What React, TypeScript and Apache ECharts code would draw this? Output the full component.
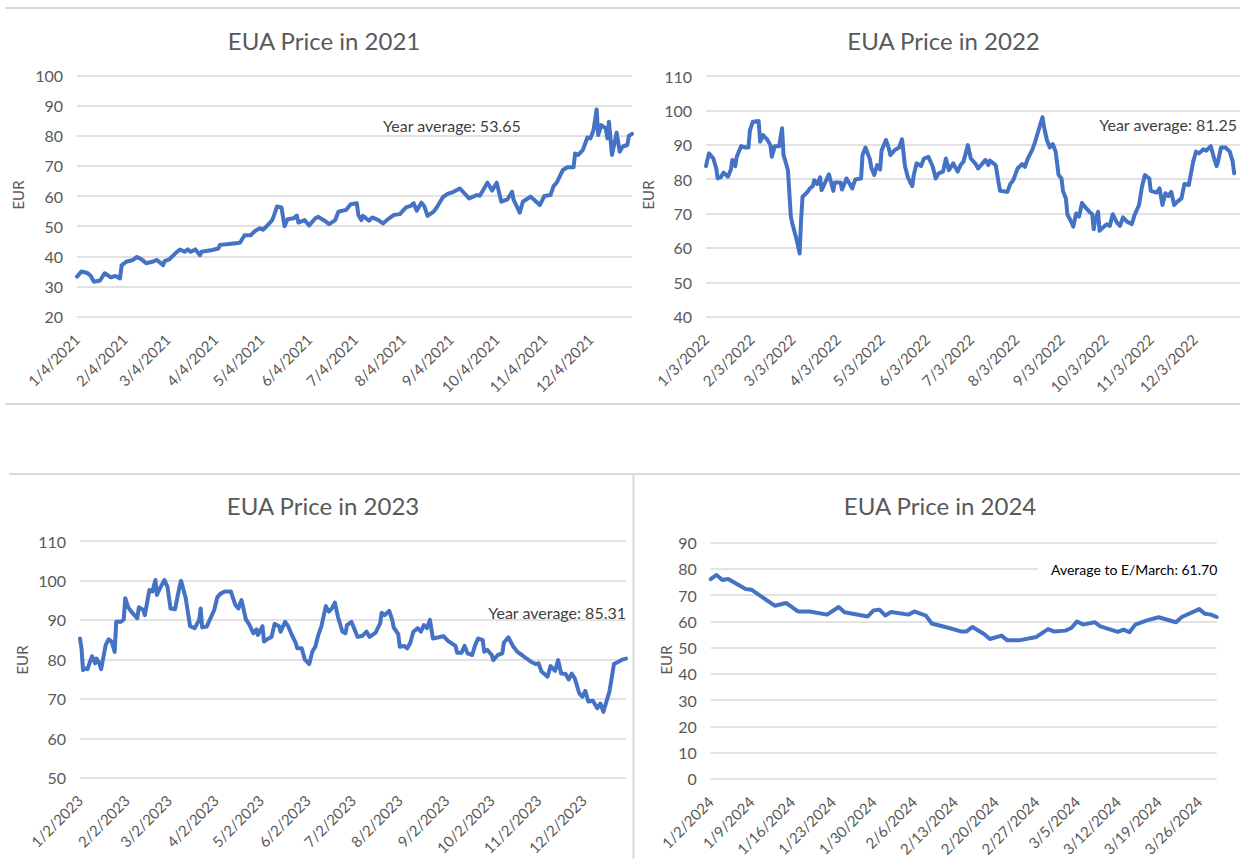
import React, { useEffect, useRef } from "react";
import * as echarts from "echarts";

// ---------- data ----------
const dates2021 = ["2021-01-04","2021-01-07","2021-01-11","2021-01-13","2021-01-15","2021-01-19","2021-01-22","2021-01-26","2021-01-29","2021-02-01","2021-02-02","2021-02-05","2021-02-09","2021-02-12","2021-02-15","2021-02-18","2021-02-22","2021-02-25","2021-03-01","2021-03-02","2021-03-05","2021-03-09","2021-03-12","2021-03-15","2021-03-17","2021-03-19","2021-03-22","2021-03-25","2021-03-26","2021-04-02","2021-04-06","2021-04-07","2021-04-13","2021-04-20","2021-04-23","2021-04-27","2021-04-30","2021-05-03","2021-05-05","2021-05-07","2021-05-11","2021-05-13","2021-05-14","2021-05-17","2021-05-19","2021-05-21","2021-05-25","2021-05-27","2021-05-28","2021-06-01","2021-06-04","2021-06-08","2021-06-10","2021-06-14","2021-06-17","2021-06-21","2021-06-23","2021-06-28","2021-07-01","2021-07-05","2021-07-06","2021-07-08","2021-07-09","2021-07-13","2021-07-15","2021-07-19","2021-07-22","2021-07-26","2021-07-29","2021-08-02","2021-08-06","2021-08-09","2021-08-11","2021-08-13","2021-08-16","2021-08-18","2021-08-20","2021-08-24","2021-08-26","2021-08-30","2021-09-02","2021-09-06","2021-09-10","2021-09-13","2021-09-16","2021-09-21","2021-09-23","2021-09-27","2021-09-28","2021-10-01","2021-10-04","2021-10-07","2021-10-11","2021-10-14","2021-10-15","2021-10-19","2021-10-21","2021-10-26","2021-10-29","2021-11-01","2021-11-04","2021-11-08","2021-11-10","2021-11-12","2021-11-16","2021-11-19","2021-11-23","2021-11-24","2021-11-26","2021-11-29","2021-12-02","2021-12-04","2021-12-06","2021-12-08","2021-12-09","2021-12-11","2021-12-14","2021-12-15","2021-12-16","2021-12-18","2021-12-21","2021-12-23","2021-12-25","2021-12-28","2021-12-29","2021-12-31"];
const prices2021 = [33.3,35.0,34.4,33.5,31.6,32.0,34.4,33.0,33.5,32.7,37.0,38.2,38.7,39.8,39.0,37.7,38.2,38.8,37.1,38.4,39.0,41.0,42.3,41.5,42.3,41.5,42.3,40.4,41.5,42.1,42.6,43.8,44.1,44.5,47.0,47.0,48.5,49.3,48.8,49.8,52.0,54.8,56.5,56.2,50.0,52.3,52.6,53.5,51.2,52.0,50.2,52.6,53.1,51.8,50.7,52.0,54.8,55.4,57.3,57.6,53.7,52.0,53.4,51.8,52.9,52.0,50.9,52.6,53.7,54.0,56.2,56.7,57.6,55.1,57.8,56.5,53.4,54.8,56.2,59.6,60.7,61.4,62.5,60.9,59.2,60.3,60.1,63.6,64.4,61.8,64.4,58.1,58.9,61.4,58.7,54.5,58.1,59.8,58.4,57.0,60.0,60.3,63.3,64.4,68.6,69.5,69.5,74.1,73.6,75.2,79.4,79.1,81.9,88.7,80.2,83.5,82.4,79.1,84.6,73.6,81.0,74.7,76.4,76.9,79.9,80.6];

const dates2022 = ["2022-01-03","2022-01-05","2022-01-08","2022-01-10","2022-01-11","2022-01-13","2022-01-15","2022-01-18","2022-01-20","2022-01-21","2022-01-23","2022-01-24","2022-01-27","2022-01-30","2022-02-01","2022-02-02","2022-02-04","2022-02-08","2022-02-09","2022-02-11","2022-02-14","2022-02-16","2022-02-17","2022-02-19","2022-02-22","2022-02-24","2022-02-25","2022-02-26","2022-02-28","2022-03-02","2022-03-03","2022-03-06","2022-03-08","2022-03-09","2022-03-10","2022-03-13","2022-03-15","2022-03-17","2022-03-18","2022-03-20","2022-03-22","2022-03-23","2022-03-26","2022-03-28","2022-03-31","2022-04-01","2022-04-05","2022-04-06","2022-04-09","2022-04-11","2022-04-13","2022-04-15","2022-04-19","2022-04-20","2022-04-22","2022-04-25","2022-04-26","2022-04-28","2022-04-30","2022-05-02","2022-05-03","2022-05-06","2022-05-08","2022-05-09","2022-05-12","2022-05-15","2022-05-17","2022-05-19","2022-05-21","2022-05-24","2022-05-25","2022-05-27","2022-05-29","2022-05-30","2022-06-01","2022-06-04","2022-06-07","2022-06-09","2022-06-11","2022-06-14","2022-06-16","2022-06-18","2022-06-21","2022-06-24","2022-06-26","2022-06-28","2022-07-01","2022-07-03","2022-07-06","2022-07-08","2022-07-11","2022-07-13","2022-07-15","2022-07-16","2022-07-20","2022-07-22","2022-07-23","2022-07-28","2022-07-30","2022-08-01","2022-08-04","2022-08-07","2022-08-09","2022-08-11","2022-08-14","2022-08-16","2022-08-18","2022-08-21","2022-08-22","2022-08-24","2022-08-26","2022-08-28","2022-08-30","2022-09-01","2022-09-03","2022-09-04","2022-09-06","2022-09-07","2022-09-10","2022-09-11","2022-09-13","2022-09-15","2022-09-17","2022-09-20","2022-09-22","2022-09-24","2022-09-25","2022-09-26","2022-09-28","2022-09-29","2022-10-02","2022-10-04","2022-10-06","2022-10-08","2022-10-11","2022-10-13","2022-10-15","2022-10-18","2022-10-21","2022-10-23","2022-10-26","2022-10-28","2022-10-30","2022-11-02","2022-11-03","2022-11-07","2022-11-09","2022-11-11","2022-11-13","2022-11-15","2022-11-17","2022-11-19","2022-11-21","2022-11-24","2022-11-26","2022-11-29","2022-12-02","2022-12-04","2022-12-06","2022-12-09","2022-12-11","2022-12-14","2022-12-16","2022-12-18","2022-12-19","2022-12-21","2022-12-24","2022-12-27","2022-12-29","2022-12-30"];
const prices2022 = [83.8,87.5,86.0,83.1,80.2,80.5,81.9,80.7,82.8,85.6,83.8,86.5,89.6,89.2,89.2,94.1,96.7,96.9,90.9,92.8,91.4,89.9,86.5,89.6,89.6,94.8,87.0,85.6,82.6,69.1,67.1,62.3,58.4,68.1,74.9,76.1,77.3,78.0,79.7,78.6,80.5,76.8,79.5,81.4,76.6,79.0,79.0,77.0,80.2,78.8,77.3,79.9,80.2,87.0,89.2,85.8,83.4,81.2,84.1,82.8,88.3,91.4,88.9,87.0,88.5,89.2,91.6,83.8,80.5,78.0,81.2,84.6,84.1,83.8,86.0,86.5,83.6,80.2,81.7,82.2,86.0,82.6,84.6,82.2,84.1,85.1,89.9,86.0,84.6,83.1,84.6,85.6,84.1,85.4,84.1,79.0,76.6,76.3,78.6,79.7,83.1,84.4,83.6,86.0,88.5,90.9,93.8,98.0,95.3,91.4,89.2,90.2,88.0,81.2,80.2,76.6,74.4,69.8,67.3,66.2,70.0,69.1,73.1,71.5,70.5,69.8,65.4,68.1,70.5,65.0,66.2,66.9,66.4,69.8,67.3,66.4,68.9,67.6,66.9,69.6,72.5,77.8,81.2,80.2,76.6,76.1,77.3,72.5,75.9,75.1,76.3,72.5,73.4,74.4,78.6,78.3,85.1,88.0,87.5,88.7,88.3,89.6,86.5,83.8,85.1,89.2,89.2,88.0,85.1,81.7];

const dates2023 = ["2023-01-02","2023-01-03","2023-01-04","2023-01-05","2023-01-07","2023-01-09","2023-01-10","2023-01-12","2023-01-13","2023-01-15","2023-01-16","2023-01-19","2023-01-21","2023-01-23","2023-01-25","2023-01-26","2023-01-29","2023-01-31","2023-02-01","2023-02-03","2023-02-05","2023-02-09","2023-02-10","2023-02-13","2023-02-14","2023-02-17","2023-02-19","2023-02-21","2023-02-22","2023-02-24","2023-02-27","2023-03-01","2023-03-03","2023-03-06","2023-03-07","2023-03-09","2023-03-10","2023-03-13","2023-03-16","2023-03-19","2023-03-22","2023-03-23","2023-03-24","2023-03-27","2023-04-01","2023-04-03","2023-04-05","2023-04-08","2023-04-12","2023-04-15","2023-04-17","2023-04-19","2023-04-20","2023-04-22","2023-04-24","2023-04-27","2023-04-29","2023-04-30","2023-05-03","2023-05-04","2023-05-07","2023-05-09","2023-05-11","2023-05-14","2023-05-15","2023-05-18","2023-05-20","2023-05-22","2023-05-25","2023-05-26","2023-05-29","2023-05-31","2023-06-03","2023-06-05","2023-06-07","2023-06-09","2023-06-11","2023-06-14","2023-06-16","2023-06-18","2023-06-20","2023-06-22","2023-06-25","2023-06-27","2023-06-28","2023-07-01","2023-07-03","2023-07-05","2023-07-08","2023-07-11","2023-07-13","2023-07-17","2023-07-20","2023-07-21","2023-07-23","2023-07-26","2023-07-28","2023-07-29","2023-08-01","2023-08-02","2023-08-05","2023-08-07","2023-08-09","2023-08-11","2023-08-14","2023-08-16","2023-08-18","2023-08-20","2023-08-22","2023-08-24","2023-08-28","2023-08-31","2023-09-03","2023-09-06","2023-09-08","2023-09-09","2023-09-12","2023-09-14","2023-09-16","2023-09-19","2023-09-21","2023-09-23","2023-09-26","2023-09-27","2023-09-29","2023-10-02","2023-10-03","2023-10-06","2023-10-09","2023-10-10","2023-10-13","2023-10-16","2023-10-19","2023-10-22","2023-10-24","2023-10-28","2023-10-31","2023-11-02","2023-11-04","2023-11-08","2023-11-10","2023-11-13","2023-11-15","2023-11-17","2023-11-20","2023-11-22","2023-11-24","2023-11-26","2023-11-29","2023-12-01","2023-12-03","2023-12-05","2023-12-08","2023-12-11","2023-12-13","2023-12-15","2023-12-17","2023-12-19","2023-12-21","2023-12-22","2023-12-25","2023-12-28","2023-12-30"];
const prices2023 = [85.3,82.8,77.3,77.7,77.5,79.8,80.8,79.0,80.2,78.8,77.5,83.6,85.1,84.5,81.9,89.5,89.5,90.1,95.5,93.2,92.1,90.4,93.2,92.5,91.2,97.6,97.2,100.1,96.3,98.0,100.1,98.4,92.9,92.7,94.6,98.4,99.9,95.7,88.4,87.9,90.0,92.9,88.1,88.3,92.5,95.7,96.6,97.2,97.2,93.8,92.9,95.0,93.5,90.1,89.0,86.6,87.6,86.2,88.4,84.5,85.3,85.7,89.0,88.4,87.0,89.5,88.4,86.6,84.2,82.8,82.8,80.0,78.8,81.9,83.2,86.2,88.3,93.5,92.1,92.9,94.4,90.8,87.0,86.6,88.7,89.5,87.6,85.7,85.9,87.0,85.7,86.8,89.1,91.8,91.2,92.3,90.0,88.1,86.4,83.2,83.4,82.8,84.2,87.0,87.9,87.0,88.7,87.9,90.0,85.3,85.6,85.9,84.7,83.9,83.4,81.7,81.7,83.4,81.5,81.1,83.6,85.3,84.9,81.9,82.4,81.1,79.8,81.1,81.5,84.2,85.6,83.4,81.9,81.1,80.5,79.4,78.8,79.0,76.9,75.6,78.3,77.1,79.8,76.4,76.3,74.9,76.4,75.2,71.4,70.5,72.0,69.3,69.5,67.6,68.8,66.7,69.3,71.8,76.4,78.8,79.4,80.0,80.2];

const dates2024 = ["2024-01-02","2024-01-03","2024-01-04","2024-01-05","2024-01-08","2024-01-09","2024-01-13","2024-01-15","2024-01-17","2024-01-19","2024-01-22","2024-01-24","2024-01-25","2024-01-29","2024-01-30","2024-01-31","2024-02-01","2024-02-02","2024-02-05","2024-02-06","2024-02-08","2024-02-09","2024-02-12","2024-02-14","2024-02-15","2024-02-16","2024-02-18","2024-02-19","2024-02-21","2024-02-22","2024-02-24","2024-02-27","2024-02-29","2024-03-01","2024-03-03","2024-03-04","2024-03-05","2024-03-06","2024-03-08","2024-03-09","2024-03-12","2024-03-13","2024-03-14","2024-03-15","2024-03-17","2024-03-19","2024-03-22","2024-03-23","2024-03-26","2024-03-27","2024-03-28","2024-03-29"];
const prices2024 = [76.1,77.7,75.8,76.2,72.4,72.1,66.0,67.0,63.8,63.8,62.6,65.5,63.5,61.9,64.2,64.5,62.3,63.6,62.6,63.8,62.2,59.2,57.5,56.2,56.2,57.9,55.2,53.3,54.6,52.8,52.8,54.1,57.1,56.2,56.5,57.5,60.0,58.8,59.7,58.1,56.0,56.9,55.9,58.8,60.4,61.6,59.7,61.7,64.7,62.9,62.6,61.7];

const ticks2021 = ["2021-01-04","2021-02-04","2021-03-04","2021-04-04","2021-05-04","2021-06-04","2021-07-04","2021-08-04","2021-09-04","2021-10-04","2021-11-04","2021-12-04"];
const ticks2022 = ["2022-01-03","2022-02-03","2022-03-03","2022-04-03","2022-05-03","2022-06-03","2022-07-03","2022-08-03","2022-09-03","2022-10-03","2022-11-03","2022-12-03"];
const ticks2023 = ["2023-01-02","2023-02-02","2023-03-02","2023-04-02","2023-05-02","2023-06-02","2023-07-02","2023-08-02","2023-09-02","2023-10-02","2023-11-02","2023-12-02"];
const ticks2024 = ["2024-01-02","2024-01-09","2024-01-16","2024-01-23","2024-01-30","2024-02-06","2024-02-13","2024-02-20","2024-02-27","2024-03-05","2024-03-12","2024-03-19","2024-03-26"];

const titles = ["EUA Price in 2021", "EUA Price in 2022", "EUA Price in 2023", "EUA Price in 2024"];
const notes = ["Year average: 53.65", "Year average: 81.25", "Year average: 85.31", "Average to E/March: 61.70"];
const yRanges = [[20, 100], [40, 110], [50, 110], [0, 90]];
const xRanges = [["2021-01-04", "2021-12-31"], ["2022-01-03", "2023-01-03"], ["2023-01-02", "2023-12-30"], ["2024-01-02", "2024-03-29"]];

// ---------- helpers ----------
const FONT = "Lato, 'Open Sans', sans-serif";
const GRAY = "#595959";
const ts = (s: string) => {
  const [y, m, d] = s.split("-").map(Number);
  return new Date(y, m - 1, d).getTime();
};
const fmt = (v: number) => {
  const d = new Date(v);
  return `${d.getMonth() + 1}/${d.getDate()}/${d.getFullYear()}`;
};

const panels = [
  { dates: dates2021, prices: prices2021, ticks: ticks2021, grid: { left: 77, top: 75.3, width: 555, height: 241.4 } },
  { dates: dates2022, prices: prices2022, ticks: ticks2022, grid: { left: 706, top: 76, width: 536.6, height: 240.7 } },
  { dates: dates2023, prices: prices2023, ticks: ticks2023, grid: { left: 80, top: 541, width: 546, height: 236.7 } },
  { dates: dates2024, prices: prices2024, ticks: ticks2024, grid: { left: 710.7, top: 542.7, width: 506, height: 237.3 } },
];

const titlePos = [[324, 40], [943.5, 40], [323, 505], [940, 505]];
const eurPos = [[18, 195], [648, 195], [22, 660], [666, 660]];

export default function App() {
  const ref = useRef<HTMLDivElement>(null);
  useEffect(() => {
    if (!ref.current) return;
    const chart = echarts.init(ref.current, null, { renderer: "svg" });

    const grids = panels.map((p) => ({ ...p.grid, containLabel: false }));
    const xAxes = panels.map((p, i) => ({
      type: "value",
      gridIndex: i,
      min: ts(xRanges[i][0]),
      max: ts(xRanges[i][1]),
      axisLine: { show: false },
      axisTick: { show: false },
      splitLine: { show: false },
      axisLabel: {
        customValues: p.ticks.map(ts),
        formatter: (v: number) => fmt(v),
        rotate: 45,
        margin: 20,
        fontSize: 15,
        fontFamily: FONT,
        color: GRAY,
        hideOverlap: false,
      },
    }));
    const yAxes = panels.map((p, i) => ({
      type: "value",
      gridIndex: i,
      min: yRanges[i][0],
      max: yRanges[i][1],
      interval: 10,
      axisLine: { show: false },
      axisTick: { show: false },
      splitLine: { show: true, lineStyle: { color: "#d9d9d9", width: 1.5 } },
      axisLabel: { fontSize: 16, fontFamily: FONT, color: GRAY, margin: 14 },
    }));
    const series = panels.map((p, i) => ({
      type: "line",
      xAxisIndex: i,
      yAxisIndex: i,
      data: p.dates.map((d, k) => [ts(d), p.prices[k]]),
      showSymbol: false,
      symbol: "none",
      lineStyle: { color: "#4472C4", width: 4, join: "round", cap: "round" },
      itemStyle: { color: "#4472C4" },
      animation: false,
    }));

    const sepStyle = { stroke: "#d9d9d9", lineWidth: 2 };
    const elements: any[] = [
      { type: "line", shape: { x1: 5, y1: 8, x2: 1240, y2: 8 }, style: sepStyle },
      { type: "line", shape: { x1: 5, y1: 404, x2: 1240, y2: 404 }, style: sepStyle },
      { type: "line", shape: { x1: 9, y1: 474, x2: 1240, y2: 474 }, style: sepStyle },
      { type: "line", shape: { x1: 633.5, y1: 474, x2: 633.5, y2: 859 }, style: sepStyle },
    ];
    titles.forEach((t, i) => {
      elements.push({
        type: "text", x: titlePos[i][0], y: titlePos[i][1], z: 10,
        style: { text: t, fill: GRAY, fontSize: 24, fontFamily: FONT, align: "center", verticalAlign: "middle" },
      });
    });
    eurPos.forEach((p) => {
      elements.push({
        type: "text", x: p[0], y: p[1], rotation: Math.PI / 2, z: 10,
        style: { text: "EUR", fill: GRAY, fontSize: 15, fontFamily: FONT, align: "center", verticalAlign: "middle" },
      });
    });
    elements.push({
      type: "text", x: 383, y: 125, z: 10,
      style: { text: notes[0], fill: "#404040", fontSize: 16, fontFamily: FONT, align: "left", verticalAlign: "middle" },
    });
    elements.push({
      type: "text", x: 1237, y: 124, z: 10,
      style: { text: notes[1], fill: "#404040", fontSize: 16, fontFamily: FONT, align: "right", verticalAlign: "middle" },
    });
    elements.push({
      type: "text", x: 626, y: 612, z: 10,
      style: { text: notes[2], fill: "#404040", fontSize: 16, fontFamily: FONT, align: "right", verticalAlign: "middle" },
    });
    elements.push({
      type: "rect", z: 9, shape: { x: 1038, y: 559, width: 184, height: 20 }, style: { fill: "#ffffff" },
    });
    elements.push({
      type: "text", x: 1051, y: 569, z: 10,
      style: { text: notes[3], fill: "#000000", fontSize: 14, fontFamily: FONT, align: "left", verticalAlign: "middle" },
    });

    chart.setOption({
      animation: false,
      backgroundColor: "#ffffff",
      grid: grids,
      xAxis: xAxes,
      yAxis: yAxes,
      series,
      graphic: { elements },
    });
    return () => chart.dispose();
  }, []);

  return (
    <div style={{ position: "fixed", left: 0, top: 0, width: 1240, height: 859, overflow: "hidden", background: "#fff" }}>
      <div ref={ref} style={{ width: 1240, height: 859 }} />
    </div>
  );
}
